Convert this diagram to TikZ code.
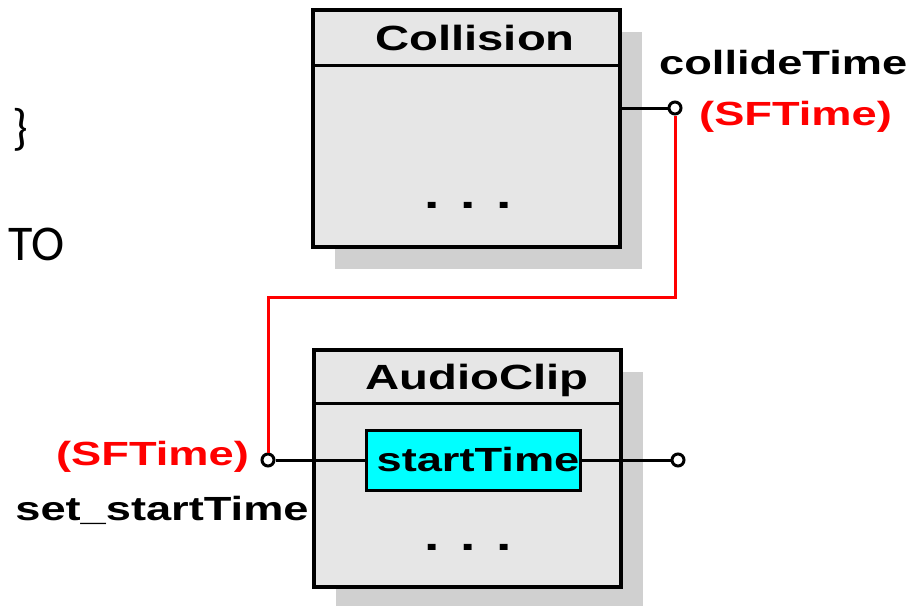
\documentclass[tikz,border=0pt]{standalone}
\usepackage{fontspec}
\newfontfamily\diagfont[FakeStretch=1.35]{Liberation Sans}
\newfontfamily\slidefont{Carlito}
\usepackage{tikz}
\usetikzlibrary{positioning,shadows}
\definecolor{boxgray}{HTML}{E6E6E6}
\definecolor{shadegray}{HTML}{D0D0D0}
\definecolor{fieldcyan}{HTML}{00FFFF}
\definecolor{wirered}{HTML}{FF0000}
\tikzset{
  nodebox/.style={rectangle, draw=black, line width=3.2pt, fill=boxgray,
                  minimum width=307pt, inner sep=0pt,
                  general shadow={fill=shadegray, shadow xshift=22pt, shadow yshift=-22pt}},
  fieldbox/.style={rectangle, draw=black, line width=3pt, fill=fieldcyan,
                   minimum width=214pt, minimum height=60pt, inner sep=0pt},
  port/.style={circle, draw=black, fill=white, line width=3pt,
               minimum size=12pt, inner sep=0pt},
  label/.style={font=\diagfont\bfseries\fontsize{33.5}{40}\selectfont, inner sep=0pt},
  typelabel/.style={label, text=wirered},
  wire/.style={line width=3pt},
}

\begin{document}
\begin{tikzpicture}[
    x=1pt,
    y=-1pt,
    titletext/.style={label, font=\diagfont\bfseries\fontsize{35}{40}\selectfont},
    dots/.style={label, font=\diagfont\bfseries\fontsize{41}{40}\selectfont},
    slidetext/.style={font=\slidefont\fontsize{50}{56}\selectfont, inner sep=0pt},
  ]
    \useasboundingbox (0,0) rectangle (923,605);

    % Leftover slide text
    \node[slidetext, anchor=west] (brace) at (12,130) {\}};
    \node[slidetext, anchor=west] (to_word) at (8,244) {TO};

    % Collision node
    \node[nodebox, minimum height=237pt] (collision) at (466.5,128.5) {};
    \draw[line width=3pt] ([yshift=-57pt]collision.north west) -- ([yshift=-57pt]collision.north east);
    \node[titletext] (collision_title) at (475,38) {Collision};
    \node[dots] (collision_dots) at (468,205) {. . .};

    % AudioClip node
    \node[nodebox, minimum height=237pt] (audioclip) at (467.5,468.5) {};
    \draw[line width=3pt] ([yshift=-55pt]audioclip.north west) -- ([yshift=-55pt]audioclip.north east);
    \node[titletext] (audioclip_title) at (477,380) {AudioClip};
    \node[fieldbox] (start_field) at (473,460) {};
    \node[label] (start_text) at (478,460) {startTime};
    \node[dots] (audioclip_dots) at (468,547) {. . .};

    % Ports and their labels
    \node[port] (collide_port) at (675,108) {};
    \node[label, anchor=west] (collide_name) at (659,63) {collideTime};
    \node[typelabel, anchor=west] (collide_type) at (699,117) {(SFTime)};

    \node[port] (set_port) at (268,460) {};
    \node[typelabel, anchor=east] (set_type) at (249,457) {(SFTime)};
    \node[label] (set_name) at (162,510) {set\_startTime};

    \node[port] (out_port) at (678,460) {};

    % Wires
    \coordinate (route_y) at (0,297);
    \draw[wire] (collision.east |- collide_port) -- (collide_port.west);
    \draw[wire] (set_port.east) -- (start_field.west);
    \draw[wire] (start_field.east) -- (out_port.west);
    \draw[wire, wirered] (collide_port.south) -- (collide_port |- route_y) -| (set_port.north);
  \end{tikzpicture}
\end{document}
